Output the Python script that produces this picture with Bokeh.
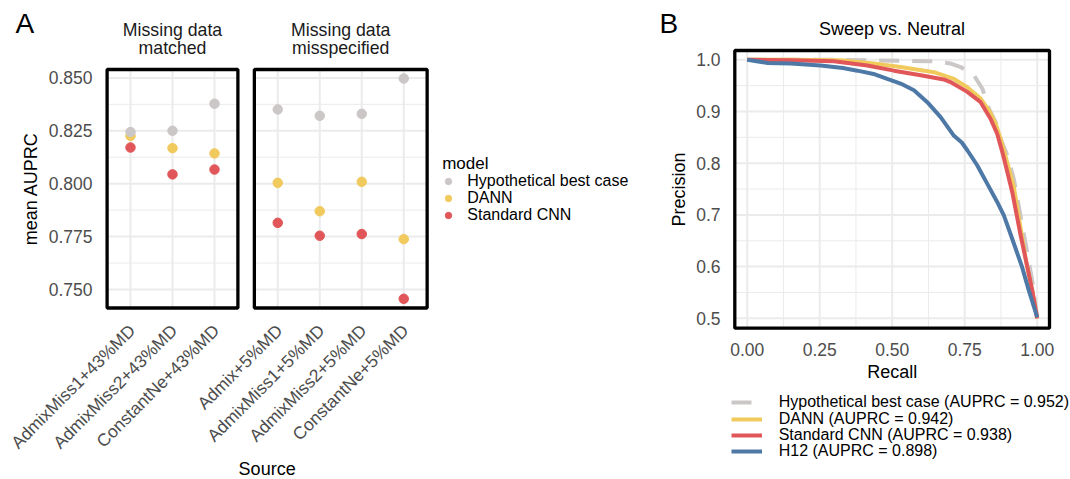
import math
from bokeh.plotting import figure
from bokeh.models import Range1d, Legend, LegendItem, Label
from bokeh.core.properties import value
from bokeh.embed import file_html
from bokeh.resources import INLINE

FONT = "Liberation Sans"

# ---------------- Panel A data ----------------
matched_sources = ["AdmixMiss1+43%MD", "AdmixMiss2+43%MD", "ConstantNe+43%MD"]
misspec_sources = ["Admix+5%MD", "AdmixMiss1+5%MD", "AdmixMiss2+5%MD", "ConstantNe+5%MD"]
facet_titles = [["Missing data", "matched"], ["Missing data", "misspecified"]]
model_names = ["Hypothetical best case", "DANN", "Standard CNN"]

matched_best = [0.8244, 0.8250, 0.8378]
matched_dann = [0.8226, 0.8168, 0.8143]
matched_cnn = [0.8171, 0.8044, 0.8067]
misspec_best = [0.8351, 0.8321, 0.8330, 0.8497]
misspec_dann = [0.8004, 0.7870, 0.8009, 0.7738]
misspec_cnn = [0.7815, 0.7754, 0.7762, 0.7456]
y_ticks_A = [0.750, 0.775, 0.800, 0.825, 0.850]

# ---------------- Panel B data ----------------
recall_best = [0.0, 0.3, 0.529, 0.644, 0.70, 0.736, 0.782, 0.811, 0.834, 0.862, 0.874, 0.897, 0.920, 0.945, 0.968, 0.985, 1.0]
precision_best = [1.0, 1.0, 0.998, 0.997, 0.993, 0.986, 0.970, 0.944, 0.905, 0.873, 0.847, 0.815, 0.768, 0.690, 0.620, 0.565, 0.5]
recall_dann = [0.0, 0.15, 0.322, 0.437, 0.529, 0.644, 0.713, 0.759, 0.805, 0.834, 0.857, 0.874, 0.900, 0.920, 0.938, 0.962, 0.983, 1.0]
precision_dann = [1.0, 1.0, 0.999, 0.993, 0.986, 0.976, 0.963, 0.947, 0.925, 0.902, 0.876, 0.847, 0.795, 0.752, 0.690, 0.610, 0.553, 0.5]
recall_cnn = [0.0, 0.15, 0.299, 0.414, 0.506, 0.598, 0.678, 0.701, 0.759, 0.805, 0.839, 0.862, 0.880, 0.897, 0.914, 0.942, 0.966, 0.983, 1.0]
precision_cnn = [1.0, 0.999, 0.997, 0.989, 0.979, 0.970, 0.962, 0.957, 0.938, 0.918, 0.886, 0.857, 0.821, 0.783, 0.744, 0.663, 0.599, 0.554, 0.5]
recall_h12 = [0.0, 0.07, 0.15, 0.253, 0.33, 0.38, 0.44, 0.483, 0.529, 0.575, 0.621, 0.667, 0.713, 0.74, 0.759, 0.793, 0.828, 0.862, 0.885, 0.908, 0.948, 0.971, 1.0]
precision_h12 = [1.0, 0.994, 0.993, 0.989, 0.984, 0.979, 0.972, 0.963, 0.954, 0.941, 0.918, 0.889, 0.853, 0.840, 0.825, 0.796, 0.760, 0.725, 0.699, 0.663, 0.599, 0.554, 0.502]
b_labels = ["Hypothetical best case (AUPRC = 0.952)", "DANN (AUPRC = 0.942)",
            "Standard CNN (AUPRC = 0.938)", "H12 (AUPRC = 0.898)"]
x_ticks_B = [0.0, 0.25, 0.5, 0.75, 1.0]
x_minor_B = [0.125, 0.375, 0.625, 0.875]
y_ticks_B = [0.5, 0.6, 0.7, 0.8, 0.9, 1.0]
y_minor_B = [0.55, 0.65, 0.75, 0.85, 0.95]

# ---------------- styles ----------------
C_BEST = "#CCC7C7"
C_DANN = "#F1CA5E"
C_CNN = "#E15759"
C_H12 = "#4E79A7"
GRID = "#EBEBEB"
TICK_COL = "#4D4D4D"
TICK_SIZE = "17.5px"

# canvas-pixel -> data helpers (used only for layout of text / frames)
W, H = 1070, 479


def a_x(sx):
    return 1.0 + (sx - 130.0) / 42.0


def a_y(sy):
    return 0.750 + (289.0 - sy) / 2116.0


def b_x(sx):
    return (sx - 746.7) / 290.0


def b_y(sy):
    return 1.0 - (sy - 59.3) / 517.0


p = figure(width=W, height=H, min_border=0, x_axis_type=None, y_axis_type=None,
           title=None, output_backend="svg", toolbar_location=None,
           outline_line_color=None,
           x_range=Range1d(a_x(0), a_x(W)), y_range=Range1d(a_y(H), a_y(0)))
p.extra_x_ranges = {"bx": Range1d(b_x(0), b_x(W))}
p.extra_y_ranges = {"by": Range1d(b_y(H), b_y(0))}
B = dict(x_range_name="bx", y_range_name="by")

BASE_SHIFT = 0.38  # em; correction between wanted baseline and Label anchor


def label(panel, sx, sy, text, size, align="left", color="black", rotated=False):
    """Place a text with its alphabetic baseline at canvas pixel (sx, sy)."""
    k = BASE_SHIFT * size
    if rotated:
        sx -= k
    else:
        sy -= k
    if panel == "A":
        x, y, kw = a_x(sx), a_y(sy), {}
    else:
        x, y, kw = b_x(sx), b_y(sy), dict(B)
    p.add_layout(Label(x=x, y=y, text=text, text_font=FONT, text_font_size=f"{size}px",
                       text_align=align, text_baseline="alphabetic", text_color=color,
                       angle=(math.pi / 2 if rotated else 0.0), **kw))


def item_legend(lbl, rend, sx_left, sy_center, gw, gh, standoff, size):
    lg = Legend(items=[LegendItem(label=lbl, renderers=[rend])],
                location=(sx_left, H - (sy_center + gh / 2)),
                padding=0, margin=0, spacing=0, glyph_width=gw, glyph_height=gh,
                label_standoff=standoff, label_height=gh, label_width=10,
                label_text_font=FONT, label_text_font_size=size,
                label_text_color="black", background_fill_alpha=0,
                border_line_color=None)
    p.add_layout(lg)


# ================= Panel A =================
PAD = 0.557
GAP = 0.392
x_matched = [1.0 + i for i in range(len(matched_sources))]
x_misspec = [x_matched[-1] + 2 * PAD + GAP + i for i in range(len(misspec_sources))]
panels = [(x_matched[0] - PAD, x_matched[-1] + PAD), (x_misspec[0] - PAD, x_misspec[-1] + PAD)]
y_lo, y_hi = a_y(307.5), a_y(69)
minor_y = [(a + b) / 2 for a, b in zip(y_ticks_A[:-1], y_ticks_A[1:])]

for (xl, xr), xs in zip(panels, [x_matched, x_misspec]):
    p.segment(x0=[xl] * len(minor_y), x1=[xr] * len(minor_y), y0=minor_y, y1=minor_y,
              line_color=GRID, line_width=1)
    p.segment(x0=[xl] * len(y_ticks_A), x1=[xr] * len(y_ticks_A), y0=y_ticks_A, y1=y_ticks_A,
              line_color=GRID, line_width=2)
    p.segment(x0=xs, x1=xs, y0=[y_lo] * len(xs), y1=[y_hi] * len(xs),
              line_color=GRID, line_width=2)

xs_all = x_matched + x_misspec
r_cnn = p.scatter(xs_all, matched_cnn + misspec_cnn, size=9.5, color=C_CNN)
r_dann = p.scatter(xs_all, matched_dann + misspec_dann, size=9.5, color=C_DANN)
r_best = p.scatter(xs_all, matched_best + misspec_best, size=9.5, color=C_BEST)

p.quad(left=[q[0] for q in panels], right=[q[1] for q in panels],
       bottom=[y_lo] * 2, top=[y_hi] * 2, fill_color=None,
       line_color="black", line_width=3.3)

# y tick labels (A)
p.text(x=[a_x(92)] * len(y_ticks_A), y=y_ticks_A, text=[f"{v:.3f}" for v in y_ticks_A],
       text_align="right", text_baseline="middle", text_font=value(FONT),
       text_font_size=value(TICK_SIZE), text_color=TICK_COL)
# x tick labels (A), rotated 45 degrees
p.text(x=xs_all, y=[a_y(320)] * len(xs_all), text=matched_sources + misspec_sources,
       angle=math.pi / 4, x_offset=-5.5, text_align="right", text_baseline="top",
       text_font=value(FONT), text_font_size=value(TICK_SIZE), text_color=TICK_COL)

A_PX = lambda x: 130.0 + (x - 1.0) * 42.0  # data -> canvas px (for text centring)
label("A", 15, 33.5, "A", 28)
for (xl, xr), lines in zip(panels, facet_titles):
    for j, t in enumerate(lines):
        label("A", A_PX((xl + xr) / 2), 36 + 18.3 * j, t, 17.7, align="center", color="#1A1A1A")
label("A", 37.7, 188.3, "mean AUPRC", 18, align="center", rotated=True)
label("A", (A_PX(panels[0][0]) + A_PX(panels[1][1])) / 2, 475, "Source", 18, align="center")
label("A", 441.7, 169, "model", 17)

for i, (name, rend) in enumerate(zip(model_names, [r_best, r_dann, r_cnn])):
    item_legend(name, rend, 440.3, 182.3 + i * 16.7, 16, 16, 11, "16px")

# ================= Panel B =================
bx_lo, bx_hi = b_x(734.3), b_x(1049)
by_lo, by_hi = b_y(327.7), b_y(50)
xg = x_ticks_B + x_minor_B
yg = y_ticks_B + y_minor_B
xw = [2] * len(x_ticks_B) + [1] * len(x_minor_B)
yw = [2] * len(y_ticks_B) + [1] * len(y_minor_B)
p.segment(x0=xg, x1=xg, y0=[by_lo] * len(xg), y1=[by_hi] * len(xg),
          line_color=GRID, line_width=xw, **B)
p.segment(x0=[bx_lo] * len(yg), x1=[bx_hi] * len(yg), y0=yg, y1=yg,
          line_color=GRID, line_width=yw, **B)

lb = p.line(recall_best, precision_best, line_color=C_BEST, line_width=4, line_dash="20 13", **B)
ld = p.line(recall_dann, precision_dann, line_color=C_DANN, line_width=4, **B)
lc = p.line(recall_cnn, precision_cnn, line_color=C_CNN, line_width=4, **B)
lh = p.line(recall_h12, precision_h12, line_color=C_H12, line_width=4, **B)

p.quad(left=[bx_lo], right=[bx_hi], bottom=[by_lo], top=[by_hi], fill_color=None,
       line_color="black", line_width=3.3, **B)

p.text(x=x_ticks_B, y=[b_y(349)] * len(x_ticks_B), text=[f"{v:.2f}" for v in x_ticks_B],
       text_align="center", text_baseline="middle", text_font=value(FONT),
       text_font_size=value(TICK_SIZE), text_color=TICK_COL, **B)
p.text(x=[b_x(720)] * len(y_ticks_B), y=y_ticks_B, text=[f"{v:.1f}" for v in y_ticks_B],
       text_align="right", text_baseline="middle", text_font=value(FONT),
       text_font_size=value(TICK_SIZE), text_color=TICK_COL, **B)

label("B", 659, 33.3, "B", 28)
label("B", 891.5, 35, "Sweep vs. Neutral", 18, align="center")
label("B", 891.7, 378.3, "Recall", 18, align="center")
label("B", 685, 189, "Precision", 18, align="center", rotated=True)

for i, (name, rend) in enumerate(zip(b_labels, [lb, ld, lc, lh])):
    item_legend(name, rend, 730.7, 403.3 + i * 16.3, 31, 16, 17, "16px")

open("out.html", "w").write(file_html(p, INLINE))
